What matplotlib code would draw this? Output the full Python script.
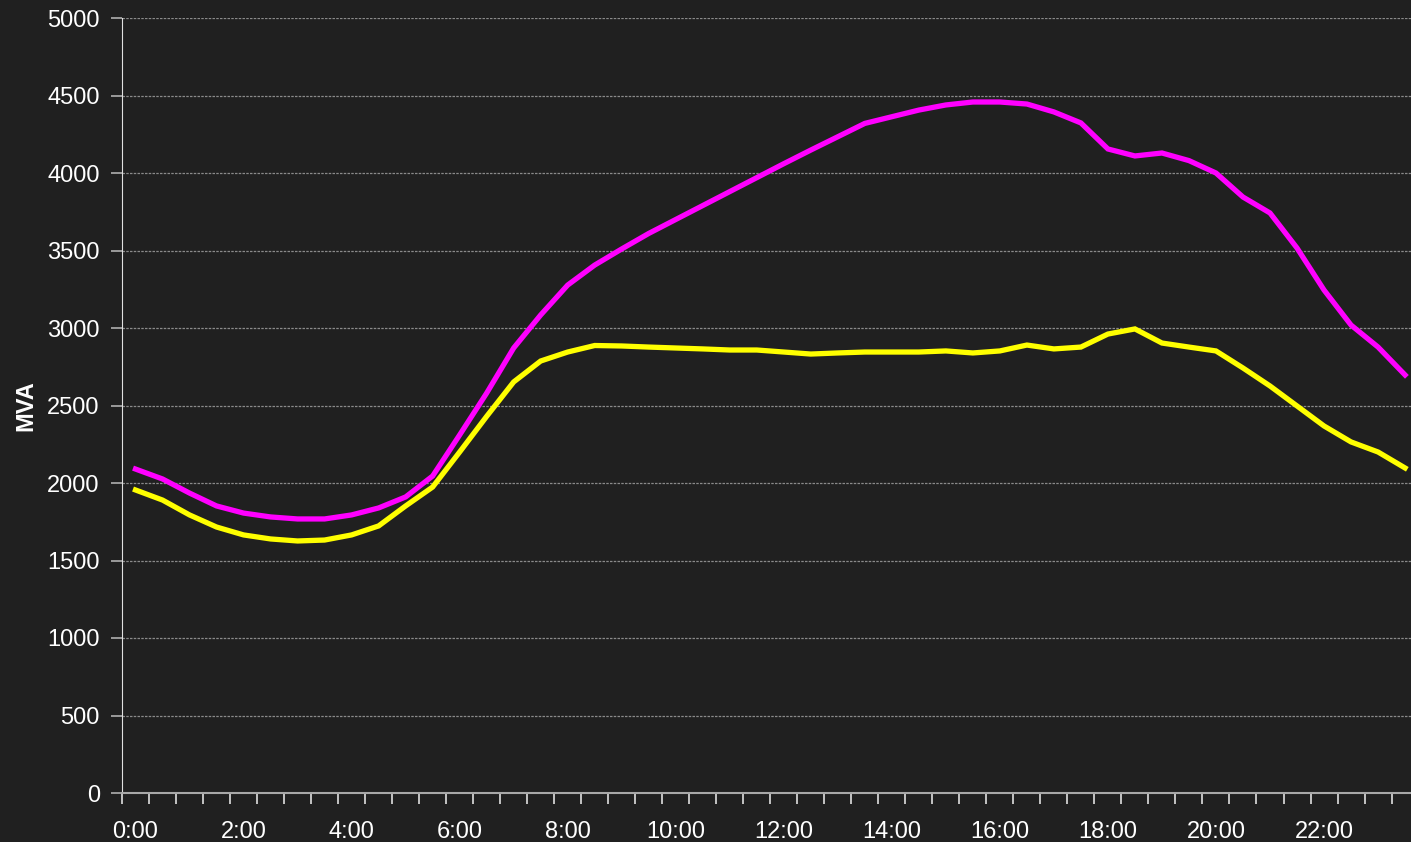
import matplotlib
matplotlib.use('Agg')
import matplotlib.pyplot as plt
from matplotlib.ticker import FixedLocator
import numpy as np

# half hour slots, 0:00 .. 23:30
slots = [f"{h}:{m:02d}" for h in range(24) for m in (0, 30)]
tick_labels = [f"{h}:00" for h in range(0, 24, 2)]

mva_peak = [2090, 2026, 1935, 1852, 1806, 1781, 1768, 1768, 1794, 1839, 1910, 2045,
            2310, 2580, 2871, 3084, 3277, 3406, 3510, 3610, 3700, 3790, 3880, 3970,
            4060, 4148, 4234, 4320, 4363, 4406, 4439, 4458, 4458, 4445, 4394, 4323,
            4155, 4110, 4129, 4080, 4000, 3845, 3742, 3516, 3245, 3019, 2877, 2697]
mva_low = [1955, 1890, 1794, 1716, 1665, 1639, 1626, 1632, 1665, 1723, 1852, 1974,
           2200, 2430, 2652, 2787, 2845, 2887, 2884, 2877, 2871, 2865, 2858, 2858,
           2845, 2832, 2839, 2845, 2845, 2845, 2852, 2839, 2852, 2890, 2865, 2877,
           2961, 2994, 2903, 2877, 2852, 2742, 2626, 2497, 2368, 2265, 2200, 2097]

plt.rcParams['font.family'] = ['Liberation Sans', 'DejaVu Sans']
bg = '#202020'

fig = plt.figure(figsize=(14.11, 8.42), dpi=100, facecolor=bg)
ax = fig.add_axes([122/1411, 49/842, 1289/1411, 775/842], facecolor=bg)

x = np.arange(len(slots))
ax.plot(x, mva_peak, color='#ff00ff', lw=3.8, solid_joinstyle='miter')
ax.plot(x, mva_low, color='#ffff00', lw=3.8, solid_joinstyle='miter')

ax.set_xlim(-0.5, 47.22)
ax.set_ylim(0, 5000)
ax.set_yticks(np.arange(0, 5001, 500))
ax.set_xticks(np.arange(0, 48, 4))
ax.set_xticklabels(tick_labels)
ax.xaxis.set_minor_locator(FixedLocator(np.arange(-0.5, 48, 1)))

ax.grid(axis='y', color='#8a8a8a', lw=0.9, ls=(0, (2, 1)))
ax.set_axisbelow(True)

for s in ['top', 'right']:
    ax.spines[s].set_visible(False)
ax.spines['left'].set_color('#e0e0e0')
ax.spines['bottom'].set_color('#a8a8a8')
ax.spines['bottom'].set_linewidth(1.5)

ax.tick_params(axis='y', colors='white', labelsize=17, length=8, width=1.2,
               pad=8, direction='out', color='#b0b0b0')
ax.tick_params(axis='x', which='major', length=0, labelsize=17,
               labelcolor='white', pad=20)
ax.tick_params(axis='x', which='minor', length=8, width=1.2,
               color='#e0e0e0', direction='out')

ax.set_ylabel('MVA', color='white', fontsize=17, fontweight='bold', labelpad=7)

fig.savefig('out.png', dpi=100, facecolor=bg)
